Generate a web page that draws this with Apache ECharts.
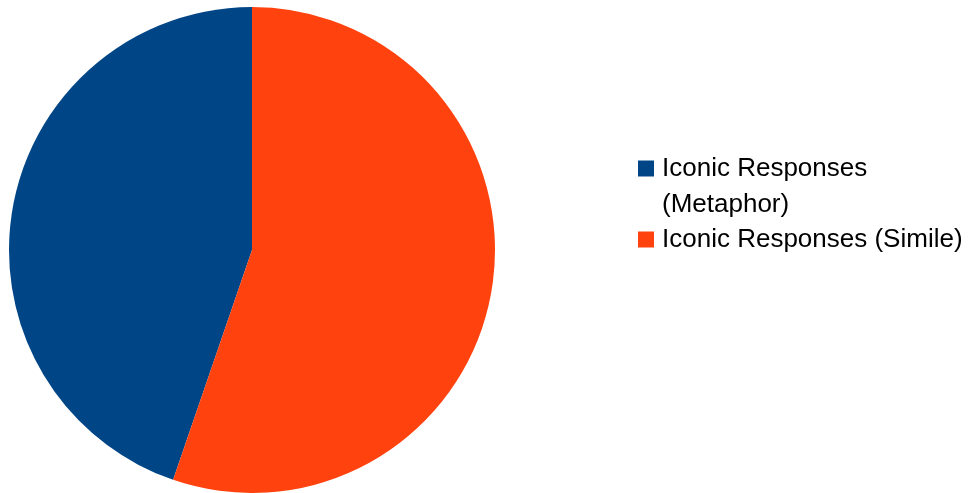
<!DOCTYPE html>
<html><head><meta charset="utf-8">
<script src="https://cdn.jsdelivr.net/npm/echarts@6/dist/echarts.min.js"></script>
<style>html,body{margin:0;padding:0;background:#fff}#c{width:972px;height:493px}</style>
</head><body><div id="c"></div>
<script>
const categories = ["Iconic Responses (Metaphor)", "Iconic Responses (Simile)"];
const values = [17, 21];
const colors = ["#004586", "#ff420e"];
const legendLabels = [["Iconic Responses", "(Metaphor)"], ["Iconic Responses (Simile)"]];

const baseText = {
  fontFamily: 'Liberation Sans', fontSize: 26, color: '#000', lineHeight: 36,
  rich: {t: {fontFamily: 'Liberation Sans', fontSize: 26, color: '#000', lineHeight: 36, padding: [0, 0, 0, 3]}}
};
const fmt = (lines, lead) => (lead ? '\n' : '') + lines.map(s => '{t|' + s + '}').join('\n');
const chart = echarts.init(document.getElementById('c'));
chart.setOption({
  animation: false,
  backgroundColor: '#fff',
  legend: [{
    orient: 'vertical',
    left: 638,
    top: 114.5,
    padding: 0,
    itemWidth: 16,
    itemHeight: 16,
    icon: 'rect',
    data: [categories[0]],
    formatter: () => fmt(legendLabels[0], true),
    textStyle: baseText
  }, {
    orient: 'vertical',
    left: 638,
    top: 221.5,
    padding: 0,
    itemWidth: 16,
    itemHeight: 16,
    icon: 'rect',
    data: [categories[1]],
    formatter: () => fmt(legendLabels[1], false),
    textStyle: baseText
  }],
  series: [{
    type: 'pie',
    center: [252, 250],
    radius: [0, 243],
    startAngle: 90,
    clockwise: false,
    label: {show: false},
    labelLine: {show: false},
    emphasis: {disabled: true},
    itemStyle: {borderWidth: 0},
    data: categories.map((c, i) => ({name: c, value: values[i], itemStyle: {color: colors[i]}}))
  }]
});
</script></body></html>
